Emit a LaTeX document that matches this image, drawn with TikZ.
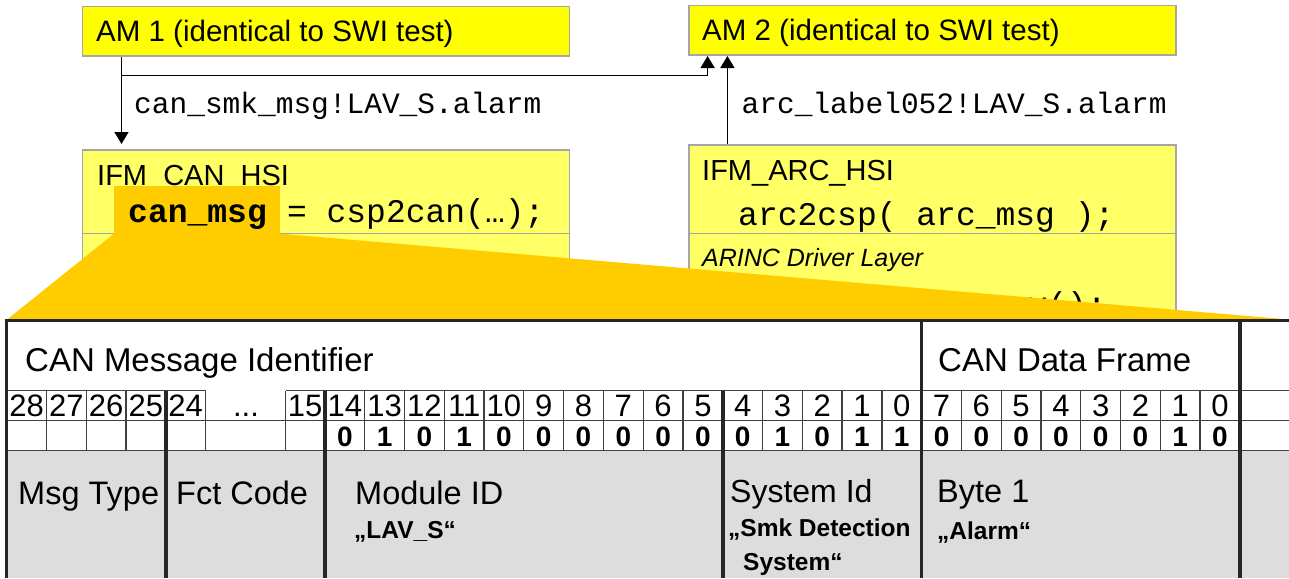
\documentclass[tikz,border=0pt]{standalone}
\usepackage{fontspec}
\setmainfont{Liberation Sans}
\setmonofont{Liberation Mono}
\usetikzlibrary{positioning}
\usetikzlibrary{arrows.meta}
\definecolor{amyellow}{HTML}{FFFF00}
\definecolor{ifmyellow}{HTML}{FFFF66}
\definecolor{zoomorange}{HTML}{FFCC00}
\definecolor{fieldgrey}{HTML}{DDDDDD}
\definecolor{boxgrey}{HTML}{A6A6A6}
\definecolor{gridgrey}{HTML}{404040}
\newcommand{\setfs}[1]{\fontsize{#1}{#1}\selectfont}

\begin{document}
\begin{tikzpicture}[x=1pt,y=-1pt,
  ambox/.style={draw=boxgrey,line width=1.5pt,fill=amyellow,anchor=north west,
    minimum width=487pt,minimum height=49.5pt,inner sep=0pt},
  ifmbox/.style={draw=boxgrey,line width=1.5pt,fill=ifmyellow,anchor=north west,
    minimum width=487pt,inner sep=0pt},
  boxtext/.style={anchor=base west,inner sep=0pt,font=\setfs{29.5}},
  codetext/.style={anchor=base west,inner sep=0pt,font=\ttfamily\setfs{33}},
  msglabel/.style={anchor=base west,inner sep=0pt,font=\ttfamily\setfs{29.5}},
  msgarrow/.style={-{Triangle[length=12pt,width=14pt]},line width=1.5pt},
  bitnum/.style={anchor=base,inner sep=0pt,font=\setfs{31}},
  bitval/.style={anchor=base,inner sep=0pt,font=\bfseries\setfs{28}},
  fieldname/.style={anchor=base west,inner sep=0pt,font=\setfs{32.5}},
  fieldval/.style={anchor=base west,inner sep=0pt,font=\bfseries\setfs{24.5}},
  thinrule/.style={draw=gridgrey,line width=1.3pt},
  fieldrule/.style={draw=black!85,line width=3.6pt}
]
\useasboundingbox (0,0) rectangle (1289,578);
% Boxes
\node[ambox] (am1) at (81.5,6) {};
\node[ambox] (am2) at (688,5) {};
\node[ifmbox,minimum height=170pt] (ifmcan) at (81.5,149) {};
\node[ifmbox,minimum height=175pt] (ifmarc) at (688,144.3) {};
\draw[boxgrey,line width=1.5pt] (ifmcan.west |- 0,233.7) -- (ifmcan.east |- 0,233.7);
\draw[boxgrey,line width=1.5pt] (ifmarc.west |- 0,233.7) -- (ifmarc.east |- 0,233.7);
% Texts
\node[boxtext] (am1txt) at (96,41.7) {AM 1 (identical to SWI test)};
\node[boxtext] (am2txt) at (702,40.7) {AM 2 (identical to SWI test)};
\node[boxtext,font=\setfs{29}] (cantitle) at (97,185) {IFM\_CAN\_HSI};
\node[boxtext,font=\setfs{29}] (arctitle) at (702,180) {IFM\_ARC\_HSI};
\node[codetext] (arccall) at (738,225) {arc2csp( arc\_msg );};
\node[boxtext,font=\itshape\setfs{25}] (arinc) at (702,266.7) {ARINC Driver Layer};
\node[codetext,anchor=base east] (arcrecv) at (1107,315) {recv();};
% Arrows
\draw[msgarrow,shorten >=5pt] ([xshift=40pt]am1.south west) -- ([xshift=40pt]ifmcan.north west);
\draw[msgarrow] ([xshift=40pt,yshift=-18.5pt]am1.south west) -| ([xshift=19.6pt]am2.south west);
\draw[msgarrow] ([xshift=39.4pt]ifmarc.north west) -- ([xshift=39.4pt]am2.south west);
\node[msglabel] (smklbl) at (134,113.3) {can\_smk\_msg!LAV\_S.alarm};
\node[msglabel] (arclbl) at (741.5,113.3) {arc\_label052!LAV\_S.alarm};
% Zoom
\node[fill=zoomorange,anchor=north west,minimum width=166pt,minimum height=47.7pt,
  inner sep=0pt,outer sep=0pt] (canmsgbg) at (114,186) {};
\fill[zoomorange] (canmsgbg.south west) -- (canmsgbg.south east) -- (1289,319.5)
  -- (1289,322) -- (4,322) -- cycle;
\node[codetext,font=\ttfamily\bfseries\setfs{33}] (canmsg) at (128,222.7) {can\_msg};
\node[codetext] (cspcall) at (canmsg.base east) {~= csp2can(…);};
% Table
\fill[white] (6.7,320.7) rectangle (1289,390.7);
\fill[fieldgrey] (6.7,450.7) rectangle (1289,578);
\draw[thinrule] (6.7,390.7) -- (206,390.7) (286,390.7) -- (1289,390.7);
\draw[thinrule] (6.7,420.7) -- (1289,420.7);
\draw[thinrule] (6.7,450.7) -- (1289,450.7);
\foreach \k in {1,...,5,7,8,...,30}
  \draw[thinrule] (6.7+\k*39.78,390.7) -- (6.7+\k*39.78,450.7);
\foreach \k in {4,8,18}
  \draw[fieldrule] (6.7+\k*39.78,390.7) -- (6.7+\k*39.78,578);
\foreach \k in {23,31}
  \draw[fieldrule] (6.7+\k*39.78,320.7) -- (6.7+\k*39.78,578);
\draw[black!85,line width=2.5pt] (1289,320.7) -- (6.7,320.7) -- (6.7,578);
\node[fieldname,font=\setfs{33}] (canid) at (25,371.7) {CAN Message Identifier};
\node[fieldname,font=\setfs{33}] (candata) at (938,371.7) {CAN Data Frame};
\foreach \k/\b in {0/28,1/27,2/26,3/25,4/24,7/15}
  \node[bitnum] (num\k) at (26.6+\k*39.78,416.7) {\b};
\node[bitnum] (dots) at (246,416.7) {...};
\foreach \k/\b/\v in {8/14/0,9/13/1,10/12/0,11/11/1,12/10/0,13/9/0,14/8/0,15/7/0,
  16/6/0,17/5/0,18/4/0,19/3/1,20/2/0,21/1/1,22/0/1,
  23/7/0,24/6/0,25/5/0,26/4/0,27/3/0,28/2/0,29/1/1,30/0/0}
{
  \node[bitnum] (num\k) at (26.6+\k*39.78,416.7) {\b};
  \node[bitval] (val\k) at (26.6+\k*39.78,446.7) {\v};
}
\node[fieldname] (msgtype) at (18,504) {Msg Type};
\node[fieldname] (fctcode) at (176,504) {Fct Code};
\node[fieldname] (moduleid) at (355,504) {Module ID};
\node[fieldval] (lavs) at (354,538.3) {„LAV\_S“};
\node[fieldname,font=\setfs{32}] (systemid) at (730,502.7) {System Id};
\node[fieldval] (smk) at (728,536.7) {„Smk Detection};
\node[fieldval] (smksys) at (743,570) {System“};
\node[fieldname] (byte1) at (937,502.7) {Byte 1};
\node[fieldval] (alarm) at (937,539) {„Alarm“};
\end{tikzpicture}
\end{document}
